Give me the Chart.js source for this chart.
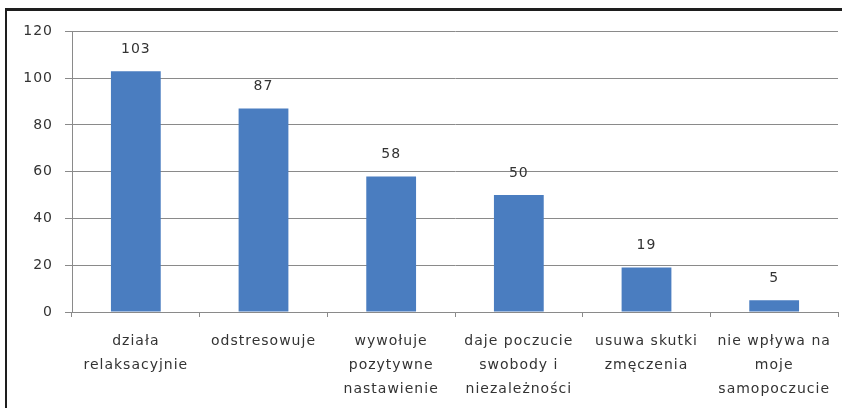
<!DOCTYPE html>
<html>
<head>
<meta charset="utf-8">
<script src="https://cdn.jsdelivr.net/npm/chart.js@4/dist/chart.umd.min.js"></script>
<style>
  html, body { margin: 0; padding: 0; background: #fff; }
  #frame {
    position: absolute; left: 5px; top: 8px;
    width: 835px; height: 397px;
    border-top: 3px solid #1e1e1e; border-left: 2px solid #1e1e1e;
  }
</style>
</head>
<body>
<div id="frame"><canvas id="chart"></canvas></div>
<script>
// dane z wykresu
var categories = [
    ['działa', 'relaksacyjnie'],
    'odstresowuje',
    ['wywołuje', 'pozytywne', 'nastawienie'],
    ['daje poczucie', 'swobody i', 'niezależności'],
    ['usuwa skutki', 'zmęczenia'],
    ['nie wpływa na', 'moje', 'samopoczucie']
];
var values = [103, 87, 58, 50, 19, 5];
var yTicks = [0, 20, 40, 60, 80, 100, 120];

var font = 'DejaVu Sans';
var textColor = '#333333';
var gridColor = '#8a8a8a';

// wartości nad słupkami
var valueLabels = {
    id: 'valueLabels',
    beforeDraw(chart) {
        chart.ctx.letterSpacing = '1px';
    },
    afterDatasetsDraw(chart) {
        let ctx = chart.ctx;
        let meta = chart.getDatasetMeta(0);
        ctx.save();
        ctx.font = '14px "' + font + '"';
        ctx.fillStyle = textColor;
        ctx.textAlign = 'center';
        ctx.textBaseline = 'middle';
        meta.data.forEach(function (bar, i) {
            ctx.fillText(values[i], bar.x, bar.y - 22);
        });
        ctx.restore();
    }
};

new Chart(document.getElementById('chart'), {
    type: 'bar',
    data: {
        labels: categories,
        datasets: [{
            data: values,
            backgroundColor: '#4a7dc0',
            barPercentage: 0.39,
            categoryPercentage: 1
        }]
    },
    options: {
        responsive: true,
        maintainAspectRatio: false,
        animation: false,
        layout: { padding: { top: 19, right: 4, left: 0, bottom: 0 } },
        plugins: { legend: { display: false }, tooltip: { enabled: false } },
        scales: {
            x: {
                afterFit(axis) { axis.height = 96; },
                grid: { offset: true, drawOnChartArea: false, tickLength: 5, color: gridColor },
                border: { color: gridColor },
                ticks: {
                    color: textColor, padding: 12, maxRotation: 0, autoSkip: false,
                    font: { family: font, size: 14, lineHeight: 24 / 14 }
                }
            },
            y: {
                min: 0, max: 120,
                afterFit(axis) { axis.width = 65; },
                afterBuildTicks(axis) { axis.ticks = yTicks.map(v => ({ value: v })); },
                grid: { tickLength: 7, color: gridColor },
                border: { color: gridColor },
                ticks: {
                    color: textColor, padding: 12,
                    font: { family: font, size: 14 }
                }
            }
        }
    },
    plugins: [valueLabels]
});
</script>
</body>
</html>
